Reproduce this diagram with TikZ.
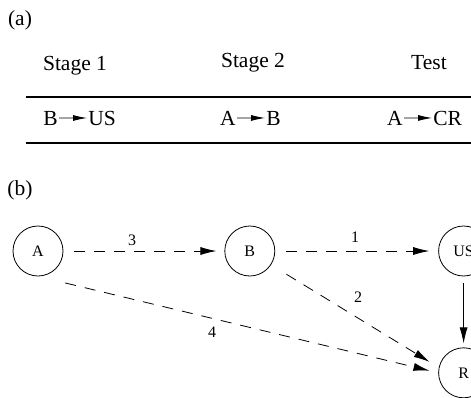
\documentclass[tikz,border=0pt]{standalone}
\usepackage{fontspec}
\setmainfont{Liberation Serif}
\usetikzlibrary{positioning, arrows.meta}

\begin{document}
\begin{tikzpicture}[x=0.5pt, y=-0.5pt,
		big/.style={font=\fontsize{10.75}{13}\selectfont, inner sep=0.5pt},
		state/.style={draw, circle, minimum size=25pt, inner sep=0pt, font=\fontsize{8}{10}\selectfont},
		num/.style={font=\fontsize{8}{10}\selectfont, inner sep=0pt},
		rule/.style={semithick},
		link/.style={dash pattern=on 5.5pt off 4.5pt, shorten <=5.5pt, shorten >=4pt, -{Latex[length=8pt, width=4pt]}},
		pair/.style={-{Latex[length=7pt, width=3pt]}}]

		\useasboundingbox (0,0) rectangle (471,397);
		\clip (0,0) rectangle (471,397);

		\node[big] (la) at (20,20) {(a)};
		\node[big, anchor=base] (h1) at (75,70) {Stage 1};
		\node[big, anchor=base] (h2) at (253,67) {Stage 2};
		\node[big, anchor=base] (h3) at (429,69) {Test};
		\coordinate (r1) at (26,97);
		\coordinate (r1e) at (480,97);
		\draw[rule] (r1) -- (r1e);

		\node[big, anchor=base east] (s1b) at (59,125) {B};
		\node[big, anchor=base west] (s1us) at (87,125) {US};
		\node[big, anchor=base east] (s2a) at (237,125) {A};
		\node[big, anchor=base west] (s2b) at (265,125) {B};
		\node[big, anchor=base east] (s3a) at (404,125) {A};
		\node[big, anchor=base west] (s3cr) at (432,125) {CR};
		\draw[pair] (s1b) -- (s1us);
		\draw[pair] (s2a) -- (s2b);
		\draw[pair] (s3a) -- (s3cr);
		\coordinate (r2) at (26,143);
		\coordinate (r2e) at (480,143);
		\draw[rule] (r2) -- (r2e);

		\node[big] (lb) at (20,190) {(b)};
		\node[state] (A) at (38,251) {A};
		\node[state, right=80.5pt of A] (B) {B};
		\node[state, right=81.5pt of B] (US) {US};
		\node[state, below=35.5pt of US] (R) {R};

		\draw[link] (A) -- (B);
		\draw[link, shorten >=4.5pt] (B) -- (US);
		\draw[link, shorten <=9pt, shorten >=5.4pt] (B.-33) -- (R.168);
		\draw[link, shorten <=14pt, shorten >=4.5pt] (A.south) -- (R.west);
		\draw[-{Latex[length=8pt, width=4pt]}, shorten <=3.5pt, shorten >=2pt] (US) -- (R);

		\node[num] (n3) at (132,240) {3};
		\node[num] (n1) at (355,237) {1};
		\node[num] (n2) at (358,297) {2};
		\node[num] (n4) at (212,332) {4};
\end{tikzpicture}
\end{document}
